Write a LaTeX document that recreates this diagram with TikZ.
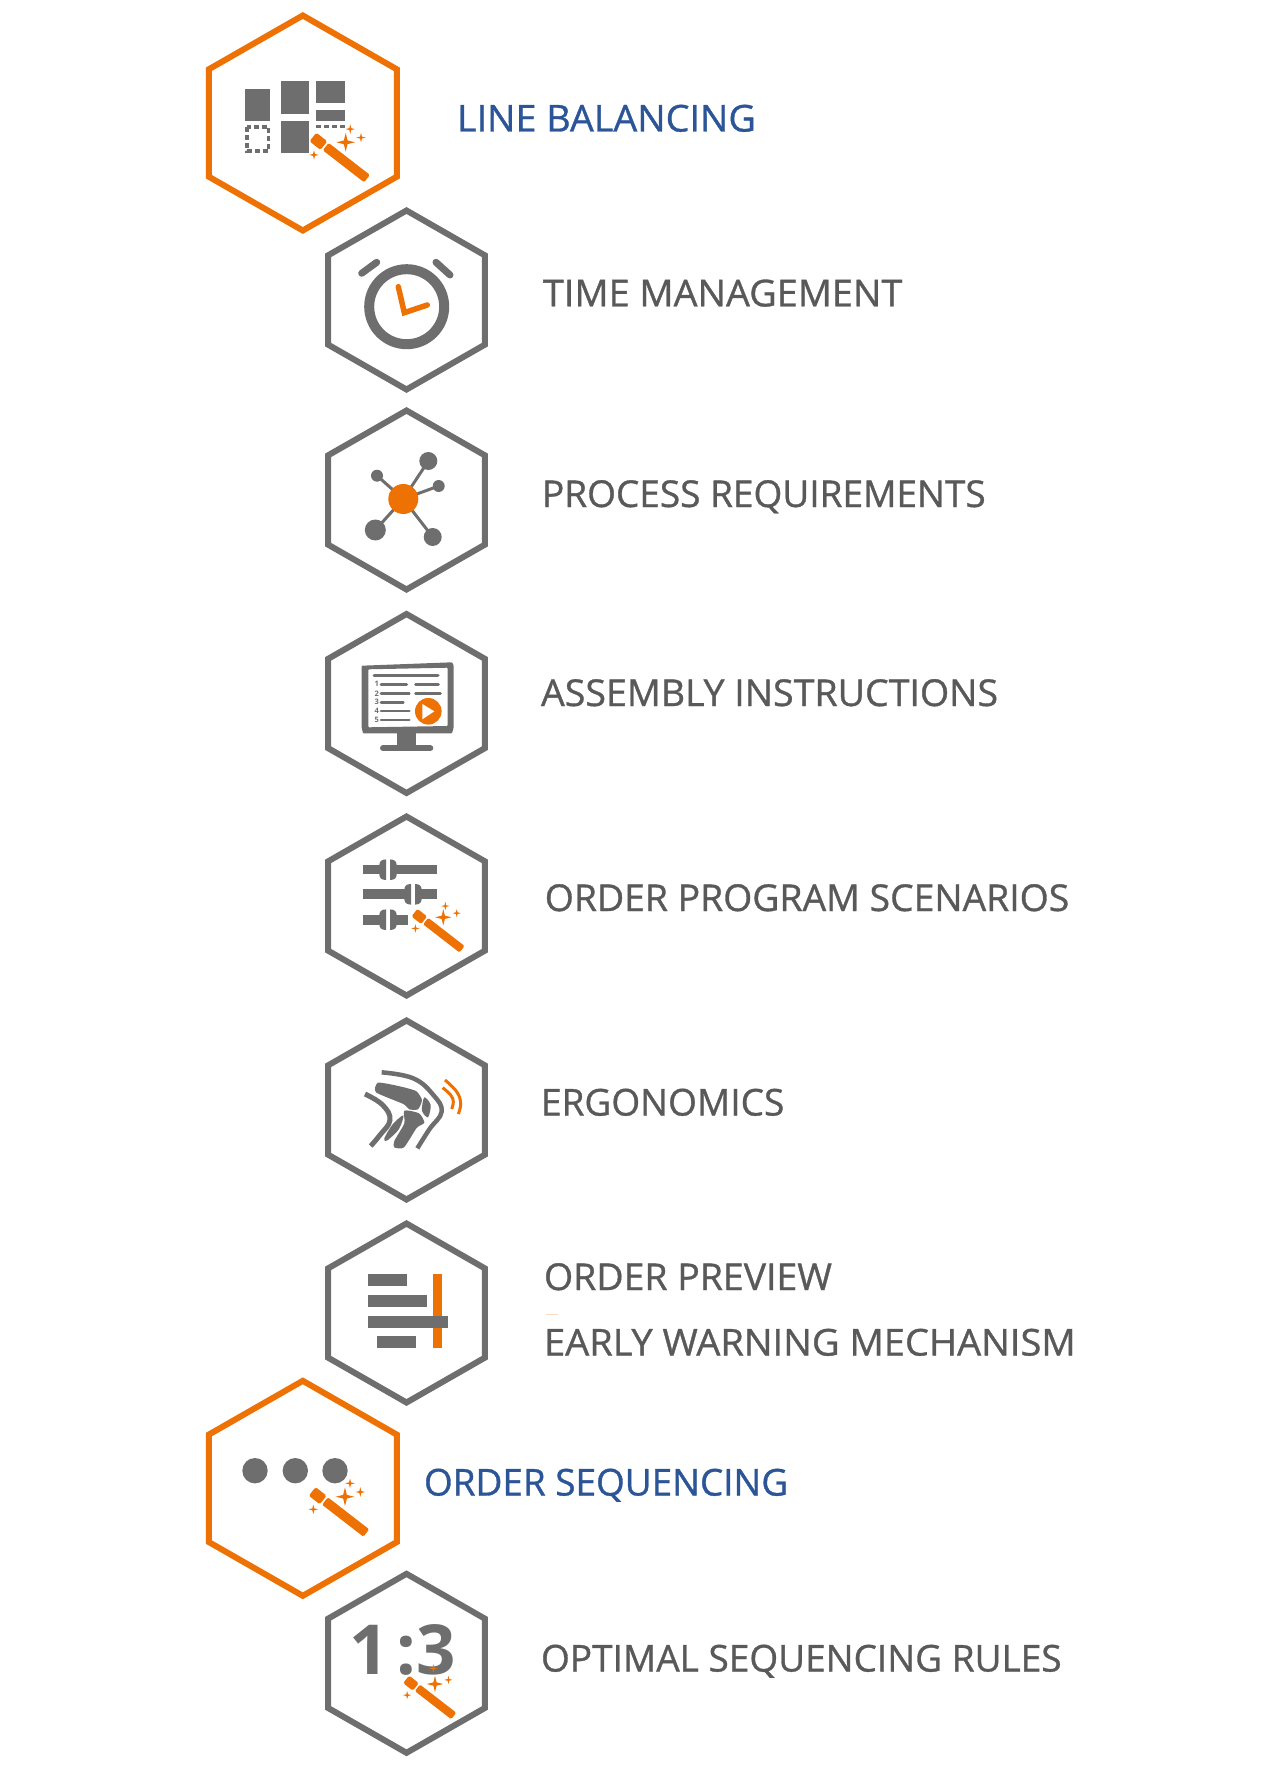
\documentclass[tikz,border=0pt]{standalone}
\usepackage{graphicx}
\usepackage{fontspec}
\setmainfont{Open Sans}
\newfontfamily\lblfont{Open Sans}
\newfontfamily\medfont[FakeBold=0.9]{Open Sans}
\definecolor{igray}{HTML}{6E6E6E}
\definecolor{iorange}{HTML}{EE7203}
\definecolor{tgray}{HTML}{595959}
\definecolor{tblue}{HTML}{2B5597}
\tikzset{
  lbl/.style={anchor=base west,inner sep=0pt,outer sep=0pt,text=tgray,font=\medfont\fontsize{37}{37}\selectfont},
  lblblue/.style={lbl,text=tblue},
  hexgray/.style={draw=igray,line width=6pt,miter limit=10},
  hexorange/.style={draw=iorange,line width=6pt,miter limit=10},
  num/.style={anchor=center,inner sep=0pt,text=igray,font=\lblfont\bfseries\fontsize{7.5}{7.5}\selectfont}
}
\newcommand{\hexsmall}[2]{\draw[hexgray] (#1,#2-89.5) -- (#1+78.3,#2-44.7) -- (#1+78.3,#2+44.7) -- (#1,#2+89.5) -- (#1-78.3,#2+44.7) -- (#1-78.3,#2-44.7) -- cycle;}
\newcommand{\hexbig}[2]{\draw[hexorange] (#1,#2-107.5) -- (#1+94,#2-53.7) -- (#1+94,#2+53.7) -- (#1,#2+107.5) -- (#1-94,#2+53.7) -- (#1-94,#2-53.7) -- cycle;}
\newcommand{\sparkle}[3]{\begin{scope}[shift={(#1,#2)},scale=#3]\fill[iorange] (0,-1)--(.2,-.2)--(1,0)--(.2,.2)--(0,1)--(-.2,.2)--(-1,0)--(-.2,-.2)--cycle;\end{scope}}
\newcommand{\wand}[5]{\begin{scope}[shift={(#1,#2)},scale=#3]
  \fill[iorange,rounded corners=1.6pt] (-25.2,7.6) -- (-18.4,-1) -- (-29.4,-9.6) -- (-36.2,-1) -- cycle;
  \fill[iorange,rounded corners=1.4pt] (-22.9,8) -- (-17.1,.6) -- (24.2,32.6) -- (18.4,40) -- cycle;
  \sparkle{0}{0}{9.3}
  \sparkle{#4}{#5}{4.8}
  \sparkle{15.3}{-4.7}{4.8}
  \sparkle{-31.7}{12.6}{4.8}
\end{scope}}
\newcommand{\knob}[2]{\begin{scope}[shift={(#1,#2)}]
  \fill[igray] (-2,-10.3) .. controls (-7,-10.3) and (-8.7,-8) .. (-8.7,-4) -- (-8.7,4) .. controls (-8.7,8) and (-7,10.3) .. (-2,10.3) -- cycle;
  \fill[igray] (2,-10.3) .. controls (7,-10.3) and (8.7,-8) .. (8.7,-4) -- (8.7,4) .. controls (8.7,8) and (7,10.3) .. (2,10.3) -- cycle;
\end{scope}}
\newcommand{\fitx}[2]{\scalebox{#1}[1]{#2}}
\begin{document}
\begin{tikzpicture}[x=1pt,y=-1pt]
\useasboundingbox (0,0) rectangle (1284,1776);
% hexagons
\hexbig{302.8}{123}
\hexsmall{406.5}{300}
\hexsmall{406.5}{500}
\hexsmall{406.5}{703.5}
\hexsmall{406.5}{906}
\hexsmall{406.5}{1110}
\hexsmall{406.5}{1313}
\hexbig{302.8}{1488.3}
\hexsmall{406.5}{1663.3}
% line balancing icon
\fill[igray] (245,88.7) rectangle (270.3,120.7);
\fill[igray] (280.7,81.3) rectangle (309.3,113.7);
\fill[igray] (316,81.3) rectangle (345,103.3);
\fill[igray] (316,110) rectangle (345,120.7);
\fill[igray] (280.7,120.7) rectangle (309.3,152.7);
\draw[igray,line width=3.5pt,dash pattern=on 5pt off 3pt] (246.8,126.8) rectangle (268.6,151);
\draw[igray,line width=3pt,dash pattern=on 5pt off 3pt] (316,126.3) -- (345,126.3);
\wand{345.7}{142.3}{1}{4.6}{-13.2}
% clock
\draw[igray,line width=10pt] (406.7,306.7) circle[radius=37.5];
\draw[igray,line width=7pt,line cap=round] (361.7,273.3) -- (376.7,262.3);
\draw[igray,line width=7pt,line cap=round] (436,262.3) -- (450,275);
\draw[iorange,line width=5.5pt,line cap=round] (398.3,286.7) -- (404.3,312.7) -- (427.3,305);
% network
\draw[igray,line width=3pt] (403.3,499) -- (428.3,461);
\draw[igray,line width=3pt] (403.3,499) -- (377,475.7);
\draw[igray,line width=3pt] (403.3,499) -- (438.7,486);
\draw[igray,line width=3pt] (403.3,499) -- (375.3,530);
\draw[igray,line width=3pt] (403.3,499) -- (432.7,537);
\fill[igray] (428.3,461) circle[radius=9];
\fill[igray] (377,475.7) circle[radius=6];
\fill[igray] (438.7,486) circle[radius=6];
\fill[igray] (375.3,530) circle[radius=10.5];
\fill[igray] (432.7,537) circle[radius=9];
\fill[iorange] (403.3,499) circle[radius=15];
% monitor
\fill[igray,even odd rule,rounded corners=.8pt] (361.7,665.7) -- (452,662.3) -- (453.6,665) -- (453.6,728) -- (452,733.3) -- (363,733.3) -- (361.7,728) -- cycle
  (368.3,669.3) -- (447.7,667.7) -- (447.7,726) -- (368.3,727.3) -- cycle;
\fill[igray] (397.3,733) rectangle (415.7,747);
\draw[igray,line width=6pt,line cap=round] (383,748.3) -- (430.3,748.3);
\draw[igray,line width=3pt,line cap=round] (374,675.7) -- (438,675.7);
\foreach \yy/\xe/\nn in {684.3/406.7/1,693.3/409.3/2,702.3/403.3/3,711/409.3/4,720/409.3/5}{
  \draw[igray,line width=2.8pt,line cap=round] (381,\yy) -- (\xe,\yy);
  \node[num] (n\nn) at (376.7,\yy) {\nn};
}
\draw[igray,line width=2.8pt,line cap=round] (415.5,684.3) -- (438.5,684.3);
\draw[igray,line width=2.8pt,line cap=round] (415.5,693.3) -- (440.5,693.3);
\fill[iorange] (428.3,711.3) circle[radius=13.3];
\fill[white] (422.3,704) -- (434.3,711.3) -- (422.3,719.3) -- cycle;
% sliders
\fill[igray] (362.7,865) rectangle (386,874.3);
\fill[igray] (390,865) rectangle (437,874.3);
\fill[igray] (362.7,889.3) rectangle (411,899.3);
\fill[igray] (415,889.3) rectangle (437,899.3);
\fill[igray] (362.7,915) rectangle (386,925);
\fill[igray] (390,915) rectangle (408.3,925);
\knob{388}{869.7}
\knob{413}{894.3}
\knob{388}{919.7}
\wand{443.3}{917.3}{.88}{2.3}{-12.8}
% knee
\begin{scope}[shift={(340,1040)},x=.3333pt,y=-.3333pt]
  \draw[igray,line width=4.5pt] plot[smooth,tension=.7] coordinates {(125,97) (220,115) (280,165) (305,215) (268,268) (232,325)};
  \draw[igray,line width=5pt] plot[smooth,tension=.7] coordinates {(75,162) (128,195) (150,240) (120,285) (92,318)};
  \fill[igray] plot[smooth cycle,tension=.35] coordinates {(114,128) (175,138) (228,153) (246,180) (234,208) (208,208) (190,192) (108,157)};
  \fill[igray] plot[smooth cycle,tension=.5] coordinates {(253,172) (272,195) (264,232) (246,212)};
  \fill[igray] plot[smooth cycle,tension=.4] coordinates {(193,212) (237,220) (253,248) (230,264) (192,322) (163,322) (163,303) (193,250)};
  \fill[igray] plot[smooth cycle,tension=.5] coordinates {(190,226) (177,267) (141,302) (133,295) (158,253)};
  \draw[iorange,line width=3pt] plot[smooth,tension=.7] coordinates {(315,120) (350,155) (362,190) (355,222)};
  \draw[iorange,line width=3pt] plot[smooth,tension=.7] coordinates {(308,143) (332,165) (340,185) (335,207)};
\end{scope}
% preview
\fill[iorange] (433,1274) rectangle (442,1348.3);
\fill[igray] (368,1274) rectangle (406.7,1286.3);
\fill[igray] (368,1295) rectangle (427.3,1307);
\fill[igray] (368,1315.7) rectangle (448.3,1328);
\fill[igray] (376.7,1336.3) rectangle (415.7,1348.3);
% dots
\fill[igray] (255,1470.7) circle[radius=12.7];
\fill[igray] (295.3,1470.7) circle[radius=12.7];
\fill[igray] (335,1470.7) circle[radius=12.7];
\wand{345}{1496.7}{1}{5}{-13.4}
% 1:3
\node[anchor=base west,inner sep=0pt,text=igray,font=\lblfont\bfseries\fontsize{69}{69}\selectfont] (ratio) at (349.5,1674.3) {1\kern7pt:\kern.5pt 3};
\wand{435}{1684}{.88}{-1.9}{-17.8}
% labels
\node[lblblue] (t1) at (457,131.5) {\fitx{1.019}{LINE BALANCING}};
\node[lbl] (t2) at (543,306.3) {\fitx{1.022}{TIME MANAGEMENT}};
\node[lbl] (t3) at (542,507) {PROCESS REQUIREMENTS};
\node[lbl] (t4) at (541,706) {\fitx{1.015}{ASSEMBLY INSTRUCTIONS}};
\node[lbl] (t5) at (544.8,911) {\fitx{1.009}{ORDER PROGRAM SCENARIOS}};
\node[lbl] (t6) at (541,1115.5) {ERGONOMICS};
\node[lbl] (t7) at (544,1290) {\fitx{1.012}{ORDER PREVIEW}};
\node[lbl] (t8) at (544,1355.5) {\fitx{1.0285}{EARLY WARNING MECHANISM}};
\node[lblblue] (t9) at (424,1495.5) {\fitx{.997}{ORDER SEQUENCING}};
\node[lbl] (t10) at (541,1671.5) {OPTIMAL SEQUENCING RULES};
\draw[iorange!25,line width=1pt] (545.7,1314) -- (558.3,1314);
\end{tikzpicture}
\end{document}
